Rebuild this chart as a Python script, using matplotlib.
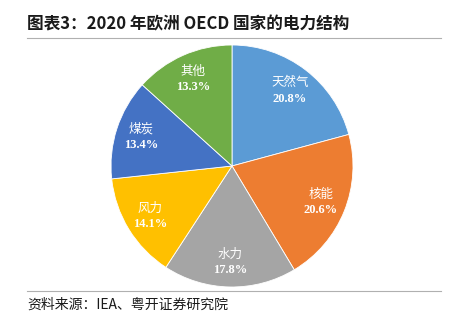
import matplotlib
matplotlib.use("Agg")
import numpy as np
import matplotlib.pyplot as plt
from matplotlib.lines import Line2D

plt.rcParams['font.family'] = ['Noto Sans CJK SC', 'DejaVu Sans']

# 数据：2020年欧洲OECD国家电力结构
categories = ['天然气', '核能', '水力', '风力', '煤炭', '其他']
shares = [20.8, 20.6, 17.8, 14.1, 13.4, 13.3]
colors = ['#5B9BD5', '#ED7D31', '#A5A5A5', '#FFC000', '#4472C4', '#70AD47']

W, H = 455, 323
fig = plt.figure(figsize=(W / 100, H / 100), dpi=100)

# 标题与分隔线
fig.text(27 / W, 1 - 24 / H, '图表3：2020 年欧洲 OECD 国家的电力结构',
         fontsize=12, fontweight='bold', color='#1a1a1a', va='center', ha='left')
fig.add_artist(Line2D([27 / W, 441 / W], [1 - 38 / H, 1 - 38 / H],
                      color='#b0b0b0', lw=0.8))
fig.add_artist(Line2D([27 / W, 441 / W], [1 - 291 / H, 1 - 291 / H],
                      color='#b0b0b0', lw=0.8))
fig.text(27 / W, 1 - 305 / H, '资料来源：IEA、粤开证券研究院',
         fontsize=10, style='italic', color='#1a1a1a', va='center', ha='left')

# 饼图
R = 121
cx, cy = 232, 166
ax = fig.add_axes([(cx - R) / W, (H - cy - R) / H, 2 * R / W, 2 * R / H])
wedges, _ = ax.pie(shares, colors=colors, startangle=90, counterclock=False,
                   wedgeprops=dict(edgecolor='white', linewidth=0.6))
ax.set_xlim(-1, 1)
ax.set_ylim(-1, 1)
ax.set_aspect('equal')

for cat, v, w in zip(categories, shares, wedges):
    mid = np.deg2rad((w.theta1 + w.theta2) / 2)
    x, y = 0.79 * np.cos(mid), 0.79 * np.sin(mid)
    ax.text(x, y + 0.06, cat, color='white', fontsize=9, ha='center', va='center')
    ax.text(x, y - 0.07, f'{v:.1f}%', color='white', fontsize=9, fontweight='bold',
            family=['Liberation Serif', 'DejaVu Serif'], ha='center', va='center')

fig.savefig('out.png', dpi=100)
